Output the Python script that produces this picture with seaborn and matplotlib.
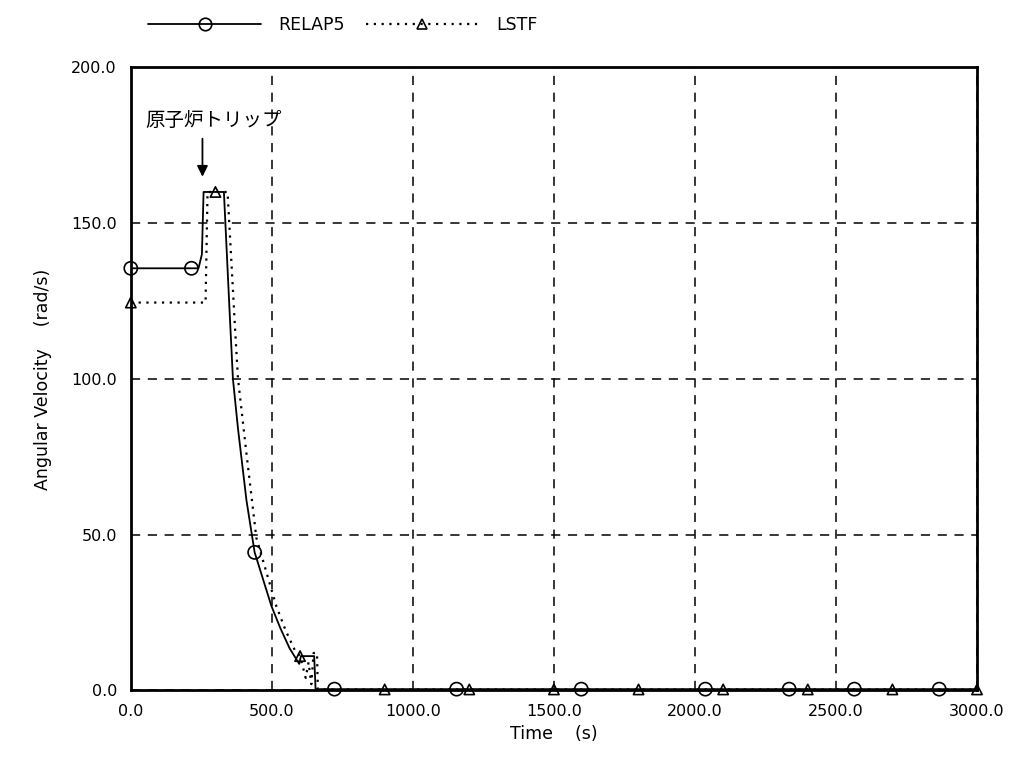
import numpy as np
import matplotlib
matplotlib.use("Agg")
import matplotlib.pyplot as plt
from matplotlib.lines import Line2D
import seaborn as sns

# RELAP5 angular velocity (rad/s) vs time (s)
relap_t = [0, 240, 252, 258, 330, 350, 362, 380, 410, 439, 498, 530, 563, 597, 603, 650, 655, 700, 3000]
relap_v = [135.5, 135.5, 140.0, 160.0, 160.0, 122.0, 100.0, 84.0, 61.0, 44.3, 27.2, 20.0, 13.5, 8.5, 11.0, 11.0, 0.4, 0.4, 0.4]
relap_marks = [0, 215, 439, 722, 1155, 1597, 2037, 2334, 2565, 2866]

# LSTF measured
lstf_t = [0, 265, 272, 343, 368, 380, 410, 445, 516, 550, 581, 600, 620, 630, 640, 648, 660, 663, 700, 3000]
lstf_v = [124.5, 124.5, 160.0, 160.0, 118.6, 100.0, 76.0, 49.0, 27.0, 19.0, 13.0, 11.0, 4.0, 9.0, 2.0, 12.0, 12.0, 0.3, 0.3, 0.3]
lstf_marks = [0, 300, 600, 900, 1200, 1500, 1800, 2100, 2400, 2700, 3000]

x_ticks = [0, 500, 1000, 1500, 2000, 2500, 3000]
y_ticks = [0, 50, 100, 150, 200]

sns.set_style("white")
plt.rcParams["font.family"] = ["DejaVu Sans", "Noto Sans CJK JP"]
plt.rcParams["text.color"] = "black"
plt.rcParams["axes.labelcolor"] = "black"
plt.rcParams["xtick.color"] = "black"
plt.rcParams["ytick.color"] = "black"

fig = plt.figure(figsize=(10.22, 7.57), dpi=100)
ax = fig.add_axes([0.128, 0.088, 0.828, 0.823])

sns.lineplot(x=relap_t, y=relap_v, ax=ax, color="black", lw=1.3,
             sort=False, estimator=None)
sns.lineplot(x=lstf_t, y=lstf_v, ax=ax, color="black", lw=1.6,
             linestyle=(0, (1, 2.5)), sort=False, estimator=None)

# markers placed on the curves
sns.scatterplot(x=relap_marks, y=np.interp(relap_marks, relap_t, relap_v), ax=ax,
                marker="o", s=90, facecolor="none", edgecolor="black", linewidth=1.2,
                zorder=5, clip_on=False)
sns.scatterplot(x=lstf_marks, y=np.interp(lstf_marks, lstf_t, lstf_v), ax=ax,
                marker="^", s=55, facecolor="none", edgecolor="black", linewidth=1.2,
                zorder=5, clip_on=False)

ax.set_xlim(0, 3000)
ax.set_ylim(0, 200)
ax.set_xticks(x_ticks)
ax.set_yticks(y_ticks)
ax.set_xticklabels([f"{v:.1f}" for v in x_ticks], fontsize=11.5)
ax.set_yticklabels([f"{v:.1f}" for v in y_ticks], fontsize=11.5)
ax.tick_params(length=0, pad=10)
ax.grid(True, color="black", linestyle=(0, (6, 5)), linewidth=1.1)
for s in ax.spines.values():
    s.set_color("black")
    s.set_linewidth(2)

ax.set_xlabel("Time    (s)", fontsize=12.5, labelpad=4)
ax.set_ylabel("Angular Velocity    (rad/s)", fontsize=12.5, labelpad=14)

ax.text(50, 183, "原子炉トリップ", fontsize=14, va="center", ha="left",
        family=["Noto Sans CJK JP", "DejaVu Sans"])
ax.annotate("", xy=(254, 164), xytext=(254, 178),
            arrowprops=dict(arrowstyle="-|>", color="black", lw=1.3, mutation_scale=16))

handles = [
    Line2D([], [], color="black", lw=1.3, marker="o", markersize=9,
           markerfacecolor="none", markeredgewidth=1.2),
    Line2D([], [], color="black", lw=1.6, linestyle=(0, (1, 2.5)), marker="^",
           markersize=7, markerfacecolor="none", markeredgewidth=1.2),
]
fig.legend(handles, ["RELAP5", "LSTF"], loc="upper left", bbox_to_anchor=(0.13, 1.0),
           ncol=2, frameon=False, handlelength=6.5, fontsize=12.5, columnspacing=1.2,
           handletextpad=1.0)

fig.savefig("out.png", dpi=100)
